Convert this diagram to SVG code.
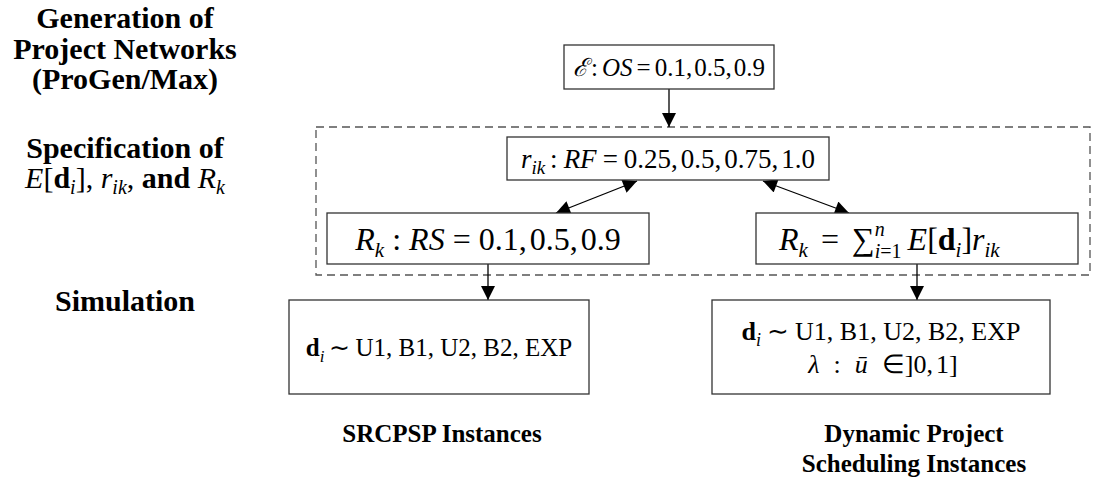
<svg xmlns="http://www.w3.org/2000/svg" width="1106" height="478" viewBox="0 0 1106 478">
<style>
.box{fill:#fff;stroke:#333;stroke-width:1.3}
.dash{fill:none;stroke:#555;stroke-width:1.3;stroke-dasharray:8 5}
.m{font-family:"Liberation Serif",serif;fill:#000}
.mc{text-anchor:middle}
.i{font-style:italic}
.b{font-weight:bold}
.lbl{font-family:"Liberation Serif",serif;font-size:30px;font-weight:bold;text-anchor:middle;fill:#000}
.cap{font-family:"Liberation Serif",serif;font-size:25px;font-weight:bold;text-anchor:middle;fill:#000}
.conn{stroke:#000;stroke-width:1.3;fill:none}
</style>
<defs>
<marker id="ah" viewBox="0 0 10 10" refX="10" refY="5" markerWidth="15" markerHeight="14" markerUnits="userSpaceOnUse" orient="auto-start-reverse">
<path d="M0,0 L10,5 L0,10 z" fill="#000"/>
</marker>
</defs>

<g id="row-labels">
<text class="lbl" x="125" y="28">Generation of</text>
<text class="lbl" x="125" y="59">Project Networks</text>
<text class="lbl" x="125" y="89">(ProGen/Max)</text>
<text class="lbl" x="125" y="158">Specification of</text>
<text class="lbl" x="125" y="188"><tspan class="i" font-weight="normal">E</tspan><tspan font-weight="normal">[</tspan>d<tspan class="i" font-size="20" font-weight="normal" dy="6">i</tspan><tspan font-weight="normal" dy="-6">],</tspan> <tspan class="i" font-weight="normal">r</tspan><tspan class="i" font-size="20" font-weight="normal" dy="6">ik</tspan><tspan font-weight="normal" dy="-6">,</tspan> and <tspan class="i" font-weight="normal">R</tspan><tspan class="i" font-size="20" font-weight="normal" dy="6">k</tspan></text>
<text class="lbl" x="125" y="311">Simulation</text>
</g>

<rect id="spec-group" class="dash" x="316" y="127" width="774" height="148"/>

<g id="connectors">
<path class="conn" d="M669,89 V127" marker-end="url(#ah)"/>
<path class="conn" d="M637,181 L556,213" marker-start="url(#ah)" marker-end="url(#ah)"/>
<path class="conn" d="M763,181 L849,213" marker-start="url(#ah)" marker-end="url(#ah)"/>
<path class="conn" d="M488,264 V300" marker-end="url(#ah)"/>
<path class="conn" d="M917,264 V300" marker-end="url(#ah)"/>
</g>

<g id="os">
<rect class="box" x="564" y="45" width="210" height="44"/>
<text class="m mc" font-size="25" x="669" y="76"><tspan class="i">ℰ</tspan><tspan dx="3">:</tspan><tspan class="i" dx="4">OS</tspan><tspan dx="4">=</tspan><tspan dx="4">0.1,</tspan><tspan dx="2">0.5,</tspan><tspan dx="2">0.9</tspan></text>
</g>

<g id="rf">
<rect class="box" x="507" y="137" width="322" height="43"/>
<text class="m mc" font-size="27" x="668" y="168"><tspan class="i">r</tspan><tspan class="i" font-size="19" dy="6">ik</tspan><tspan dy="-6" dx="5">:</tspan><tspan class="i" dx="6">RF</tspan><tspan dx="6">=</tspan><tspan dx="6">0.25,</tspan><tspan dx="3">0.5,</tspan><tspan dx="3">0.75,</tspan><tspan dx="3">1.0</tspan></text>
</g>

<g id="rs">
<rect class="box" x="327" y="213" width="322" height="51"/>
<text class="m mc" font-size="32" x="488" y="250"><tspan class="i">R</tspan><tspan class="i" font-size="21" dy="7">k</tspan><tspan dy="-7" dx="8">:</tspan><tspan class="i" dx="8">RS</tspan><tspan dx="8">=</tspan><tspan dx="8">0.1,</tspan><tspan dx="3">0.5,</tspan><tspan dx="3">0.9</tspan></text>
</g>

<g id="rk-sum">
<rect class="box" x="756" y="213" width="322" height="51"/>
<text class="m" font-size="32" x="779" y="250"><tspan class="i">R</tspan><tspan class="i" font-size="21" dy="7">k</tspan><tspan dy="-7" dx="13">=</tspan><tspan dx="13">∑</tspan><tspan class="i" font-size="20" dy="-14">n</tspan><tspan font-size="20" dx="-10" dy="22"><tspan class="i">i</tspan>=1</tspan><tspan class="i" dy="-8" dx="6">E</tspan><tspan>[</tspan><tspan class="b">d</tspan><tspan class="i" font-size="21" dy="7">i</tspan><tspan dy="-7">]</tspan><tspan class="i">r</tspan><tspan class="i" font-size="21" dy="7">ik</tspan></text>
</g>

<g id="srcpsp">
<rect class="box" x="289" y="300" width="300" height="94"/>
<text class="m mc" font-size="25" x="439" y="356"><tspan class="b">d</tspan><tspan class="i" font-size="17" dy="6">i</tspan><tspan dy="-6" dx="5">∼</tspan><tspan dx="5">U1, B1, U2, B2, EXP</tspan></text>
<text class="cap" x="442" y="442">SRCPSP Instances</text>
</g>

<g id="dynamic">
<rect class="box" x="712" y="300" width="338" height="94"/>
<text class="m mc" font-size="26" x="881" y="340"><tspan class="b">d</tspan><tspan class="i" font-size="18" dy="6">i</tspan><tspan dy="-6" dx="6">∼</tspan><tspan dx="6">U1, B1, U2, B2, EXP</tspan></text>
<text class="m mc" font-size="26" x="883" y="373"><tspan class="i">λ</tspan><tspan dx="14">:</tspan><tspan class="i" dx="14">ū</tspan><tspan dx="14">∈]0,</tspan><tspan dx="3">1]</tspan></text>
<text class="cap" x="914" y="442">Dynamic Project</text>
<text class="cap" x="914" y="472">Scheduling Instances</text>
</g>
</svg>
